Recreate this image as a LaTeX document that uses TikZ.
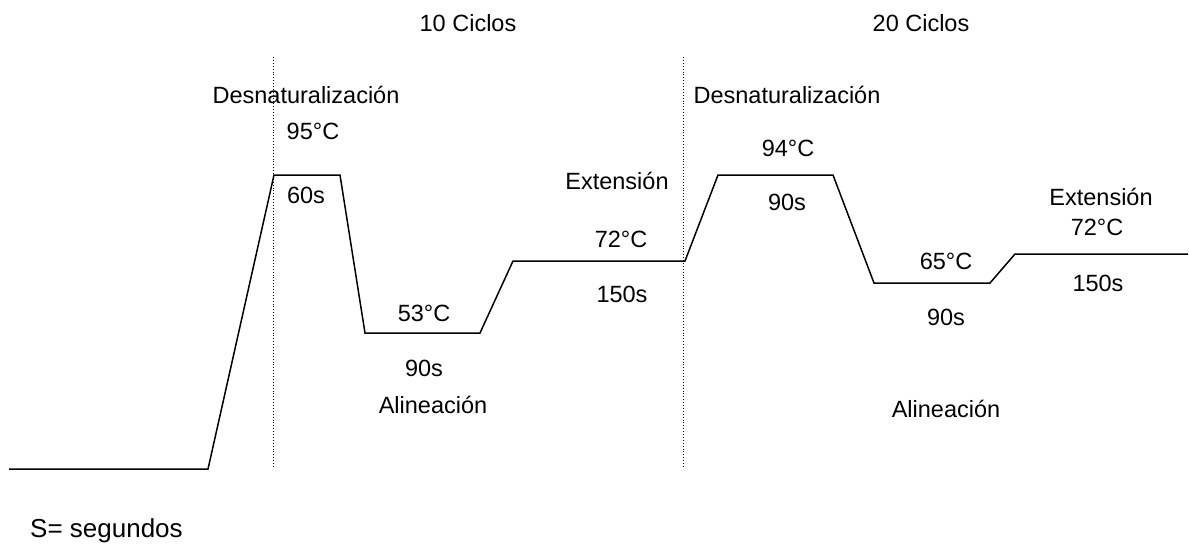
\documentclass[tikz,border=0pt]{standalone}
\usepackage{fontspec}
\setmainfont{Liberation Sans}
\begin{document}
\begin{tikzpicture}[x=1pt,y=-1pt,
  lbl/.style={anchor=base,inner sep=0pt,font=\fontsize{23.5}{28}\selectfont},
  curve/.style={line width=1.5pt,line join=miter},
  sep/.style={line width=0.9pt,dotted}]
\useasboundingbox (0,0) rectangle (1189,544);
% curve points
\coordinate (p0) at (9,469);
\coordinate (p1) at (208,469);
\coordinate (p2) at (274,175);
\coordinate (p3) at (340,175);
\coordinate (p4) at (365,333);
\coordinate (p5) at (480,333);
\coordinate (p6) at (513,261);
\coordinate (p7) at (685,261);
\coordinate (p8) at (718,175);
\coordinate (p9) at (833,175);
\coordinate (p10) at (874,283);
\coordinate (p11) at (990,283);
\coordinate (p12) at (1015,254);
\coordinate (p13) at (1188,254);
\draw[curve] (p0) -- (p1) -- (p2) -- (p3) -- (p4) -- (p5) -- (p6) -- (p7) -- (p8) -- (p9) -- (p10) -- (p11) -- (p12) -- (p13);
% separators
\coordinate (s1t) at (273,57);
\coordinate (s1b) at (273,468);
\coordinate (s2t) at (683,57);
\coordinate (s2b) at (683,468);
\draw[sep] (s1t) -- (s1b);
\draw[sep] (s2t) -- (s2b);
% labels
\node[lbl] (c10) at (468,31) {10 Ciclos};
\node[lbl] (c20) at (921,31) {20 Ciclos};
\node[lbl] (d1) at (306,103) {Desnaturalización};
\node[lbl] (t95) at (313,139) {95°C};
\node[lbl] (s60) at (306,203) {60s};
\node[lbl] (t53) at (424,321) {53°C};
\node[lbl] (s90a) at (424,376) {90s};
\node[lbl] (al1) at (433,413) {Alineación};
\node[lbl] (ex1) at (617,189) {Extensión};
\node[lbl] (t72a) at (621,247) {72°C};
\node[lbl] (s150a) at (622,302) {150s};
\node[lbl] (d2) at (787,103) {Desnaturalización};
\node[lbl] (t94) at (788,156) {94°C};
\node[lbl] (s90b) at (787,210) {90s};
\node[lbl] (t65) at (946,269) {65°C};
\node[lbl] (s90c) at (946,325) {90s};
\node[lbl] (al2) at (946,417) {Alineación};
\node[lbl] (ex2) at (1101,205) {Extensión};
\node[lbl] (t72b) at (1097,235) {72°C};
\node[lbl] (s150b) at (1098,291) {150s};
\node[lbl,anchor=base west,font=\fontsize{26}{30}\selectfont] (seg) at (30,537) {S= segundos};
\end{tikzpicture}
\end{document}
